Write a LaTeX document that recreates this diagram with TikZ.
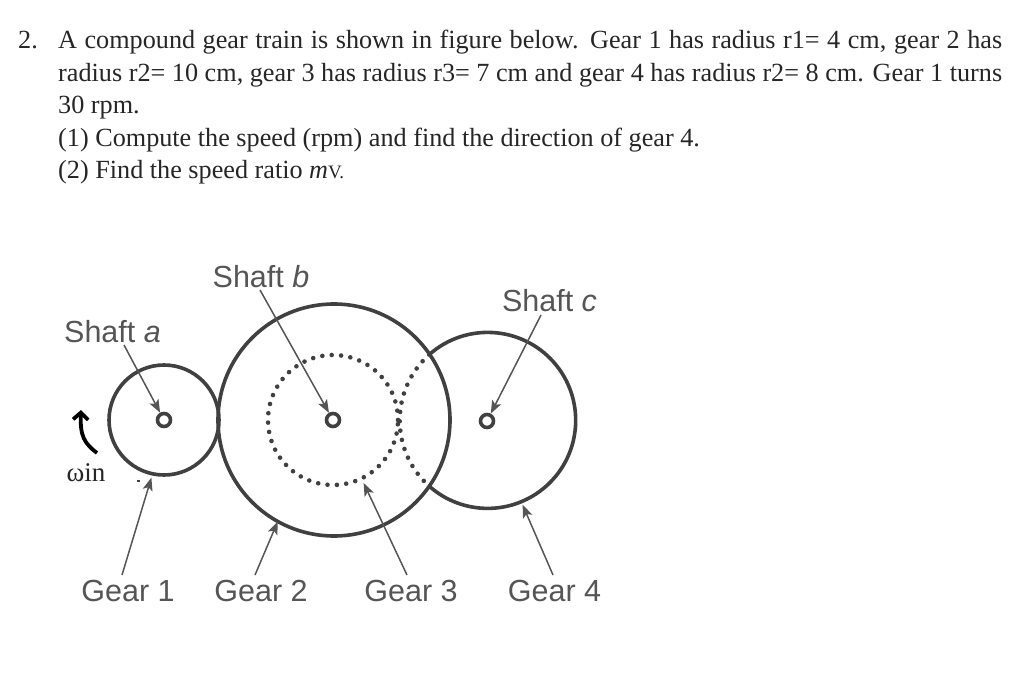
\documentclass[tikz,border=0pt]{standalone}
\usepackage{fontspec}
\setmainfont{Liberation Serif}
\setsansfont{Liberation Sans}
\usepackage{xcolor}
\usetikzlibrary{arrows.meta}
\definecolor{gearcol}{HTML}{404040}
\definecolor{labelcol}{HTML}{555555}
\tikzset{
  textline/.style={anchor=base west, inner sep=0pt, text=black!85, font=\fontsize{26.2}{30}\selectfont},
  figlabel/.style={inner sep=0pt, text=labelcol, font=\sffamily\fontsize{30.5}{34}\selectfont},
  gearline/.style={draw=gearcol, line width=3.6pt},
  geardots/.style={draw=gearcol, line width=4.6pt, line cap=round, dash pattern=on 0pt off 9.4pt},
  gearbox/.style={circle, inner sep=0pt, outer sep=0pt},
  hub/.style={circle, draw=gearcol, line width=3.6pt, minimum size=13pt, inner sep=0pt},
  pointer/.style={draw=labelcol, line width=1.5pt, -{Stealth[length=13pt, width=10pt, inset=3pt]}}
}

\begin{document}
\begin{tikzpicture}[x=1pt, y=1pt]
        \useasboundingbox (0,0) rectangle (1024,-700);

        \node[textline] (num) at (18,-49) {2.};
        \node[textline] (line1) at (58,-49) {\makebox[944pt][s]{A compound gear train is shown in figure below. Gear 1 has radius r1= 4 cm, gear 2 has}};
        \node[textline] (line2) at (58,-82) {\makebox[944pt][s]{radius r2= 10 cm, gear 3 has radius r3= 7 cm and gear 4 has radius r2= 8 cm. Gear 1 turns}};
        \node[textline] (line3) at (58,-114) {30 rpm.};
        \node[textline] (line4) at (58,-147) {(1) Compute the speed (rpm) and find the direction of gear 4.};
        \node[textline] (line5) at (58,-179) {(2) Find the speed ratio \textit{m}{\fontsize{19}{22}\selectfont V.}};

        \node[gearbox, gearline, minimum size=110pt] (gear1) at (164,-420) {};
        \node[gearbox, gearline, minimum size=232pt] (gear2) at (334,-420) {};
        \node[gearbox, geardots, minimum size=130pt] (gear3) at (333,-420) {};
        \node[gearbox, minimum size=176pt] (gear4) at (487,-421) {};
        \draw[gearline] (gear4.131.6) arc[start angle=131.6, end angle=-131.6, radius=88pt];
        \draw[geardots] (gear4.131.6) arc[start angle=131.6, end angle=228.4, radius=88pt];

        \node[hub, fill=white] (huba) at (164,-420) {};
        \node[hub, fill=white] (hubb) at (333,-420) {};
        \node[hub, fill=white] (hubc) at (487,-421) {};

        \node[figlabel] (shafta) at (112.5,-332) {Shaft \textit{a}};
        \node[figlabel] (shaftb) at (261,-277) {Shaft \textit{b}};
        \node[figlabel] (shaftc) at (549.5,-301) {Shaft \textit{c}};
        \node[figlabel] (label1) at (128,-591) {Gear 1};
        \node[figlabel] (label2) at (261,-591) {Gear 2};
        \node[figlabel] (label3) at (411,-591) {Gear 3};
        \node[figlabel] (label4) at (554.5,-591) {Gear 4};

        \coordinate (taila) at (124,-345);
        \coordinate (tailb) at (260,-290);
        \coordinate (tailc) at (541,-315);
        \coordinate (tail1) at (122,-575);
        \coordinate (tail2) at (255,-575);
        \coordinate (tail3) at (407,-575);
        \coordinate (tail4) at (553,-575);

        \draw[pointer] (taila) -- (huba);
        \draw[pointer] (tailb) -- (hubb);
        \draw[pointer] (tailc) -- (hubc);
        \draw[pointer, shorten >=4pt] (tail1) -- (gear1.-102);
        \draw[pointer] (tail2) -- (gear2.-119);
        \draw[pointer, shorten >=5pt] (tail3) -- (gear3.-64);
        \draw[pointer, shorten >=3pt] (tail4) -- (gear4.-67);

        \node[inner sep=0pt, text=black!85, font=\fontsize{27}{30}\selectfont] (omega) at (86,-473) {ωin};
        \coordinate (omegatail) at (97,-453);
        \coordinate (omegatip) at (81,-410);
        \draw[black, line width=3.8pt, -{Straight Barb[length=7pt, width=15pt]}] (omegatail) .. controls (84,-443) and (80,-436) .. (omegatip);
        \node[fill=black!75, inner sep=0pt, minimum width=3pt, minimum height=1.5pt] (speck) at (138,-481) {};
\end{tikzpicture}
\end{document}
